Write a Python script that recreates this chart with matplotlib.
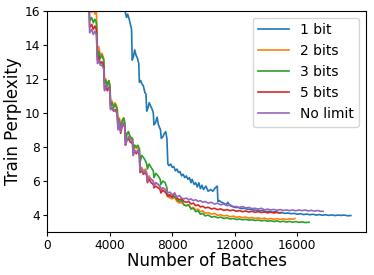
import matplotlib
matplotlib.use("Agg")
import matplotlib.pyplot as plt

# (batch, perplexity) points
bit1_x = [4950, 5000, 5080, 5150, 5250, 5350, 5400,
          5440, 5520, 5600, 5680, 5780, 5860,
          5900, 5980, 6060, 6150, 6250, 6320,
          6370, 6450, 6530, 6620, 6720, 6790,
          6830, 6920, 7030, 7120, 7250,
          7300, 7400, 7500, 7580, 7660,
          7720, 7800, 7900, 8000, 8100, 8200, 8300, 8400, 8500, 8600,
          8700, 8800, 8900, 9000, 9100, 9200, 9270, 9400, 9500, 9600, 9700, 9800, 9900,
          10000, 10150, 10300, 10450, 10600, 10750, 10880,
          10920, 11000, 11150, 11300, 11450, 11550, 11700, 11850, 12000, 12200, 12400,
          12600, 12800, 13000, 13200, 13400, 13600, 13800, 14000, 14200, 14400, 14600,
          14800, 15000, 15200, 15400, 15600, 15800, 16000, 16200, 16400, 16600, 16800,
          17000, 17200, 17400, 17600, 17800, 18000, 18200, 18400, 18600, 18800, 19000,
          19200, 19420]
bit1_y = [16.6, 15.9, 15.6, 15.8, 15.5, 15.1, 14.9,
          13.1, 13.3, 13.7, 13.4, 13.2, 12.9,
          11.8, 11.9, 11.7, 11.6, 11.2, 11.1,
          10.1, 10.3, 10.6, 10.4, 10.2, 10.0,
          9.3, 9.4, 9.75, 9.3, 9.0,
          8.5, 8.6, 8.8, 8.9, 8.5,
          7.0, 6.9, 7.0, 6.8, 6.85, 6.6, 6.7, 6.5, 6.55, 6.3,
          6.4, 6.2, 6.3, 6.1, 6.2, 5.9, 6.1, 5.8, 5.9, 5.65, 5.9, 5.55, 5.75,
          5.5, 5.7, 5.4, 5.5, 5.4, 5.6, 5.7,
          4.8, 4.85, 4.75, 4.7, 4.6, 4.75, 4.55, 4.5, 4.45, 4.45, 4.38,
          4.4, 4.35, 4.33, 4.3, 4.28, 4.25, 4.27, 4.2, 4.22, 4.17, 4.2,
          4.13, 4.15, 4.1, 4.12, 4.08, 4.1, 4.05, 4.08, 4.03, 4.06, 4.02,
          4.05, 4.0, 4.03, 3.99, 4.02, 3.98, 4.01, 3.97, 4.0, 3.98, 4.0,
          3.96, 3.97]

bit2_x = [2680, 2720, 2850, 2950, 3050, 3150,
          3220, 3300, 3400, 3500, 3620,
          3670, 3750, 3850, 3950, 4020,
          4060, 4150, 4250, 4350, 4480,
          4530, 4620, 4700, 4800, 4900, 4970,
          5010, 5100, 5200, 5300, 5460,
          5500, 5600, 5700, 5800, 5900,
          5940, 6050, 6150, 6280, 6370,
          6410, 6520, 6650, 6790,
          6830, 6950, 7100, 7230,
          7270, 7400, 7550, 7660,
          7700, 7850, 8000, 8150, 8300, 8450, 8600, 8750, 8900, 9050, 9200,
          9350, 9500, 9650, 9800, 9950, 10100, 10300, 10500, 10700, 10900, 11100,
          11300, 11500, 11700, 11900, 12100, 12300, 12500, 12700, 12900, 13100, 13300,
          13500, 13700, 13900, 14100, 14300, 14500, 14700, 14900, 15100, 15300, 15500,
          15700, 15850]
bit2_y = [16.8, 16.1, 15.9, 16.2, 15.8, 16.0,
          13.6, 13.9, 13.4, 13.5, 13.2,
          11.8, 12.0, 11.7, 11.9, 11.6,
          10.5, 10.7, 10.4, 10.6, 10.3,
          9.4, 9.7, 9.1, 9.6, 9.7, 9.4,
          8.4, 8.7, 8.9, 8.6, 8.5,
          7.8, 8.1, 7.9, 8.0, 7.8,
          6.7, 6.8, 6.6, 6.7, 6.5,
          6.1, 6.3, 6.1, 6.0,
          5.7, 5.9, 5.8, 5.6,
          5.4, 5.6, 5.5, 5.3,
          5.1, 5.0, 4.95, 5.05, 4.8, 4.7, 4.75, 4.6, 4.55, 4.6, 4.4,
          4.45, 4.3, 4.35, 4.2, 4.25, 4.1, 4.15, 4.05, 4.1, 3.98, 4.02,
          3.95, 3.98, 3.9, 3.94, 3.87, 3.9, 3.85, 3.88, 3.82, 3.86, 3.8,
          3.84, 3.78, 3.82, 3.76, 3.8, 3.75, 3.79, 3.74, 3.78, 3.74, 3.78,
          3.75, 3.8]

bit3_x = [2680, 2720, 2850, 2950, 3050, 3150,
          3220, 3300, 3400, 3500, 3620,
          3670, 3750, 3850, 3950, 4020,
          4060, 4150, 4250, 4350, 4480,
          4530, 4620, 4700, 4800, 4900, 4970,
          5010, 5100, 5200, 5300, 5460,
          5500, 5600, 5700, 5800, 5900,
          5940, 6050, 6150, 6280, 6370,
          6410, 6520, 6650, 6790,
          6830, 6950, 7100, 7230,
          7270, 7400, 7550, 7660,
          7700, 7850, 8000, 8150, 8300, 8450, 8600, 8750, 8900, 9050, 9200,
          9350, 9500, 9650, 9800, 9950, 10100, 10300, 10500, 10700, 10900, 11100,
          11300, 11500, 11700, 11900, 12100, 12300, 12500, 12700, 12900, 13100, 13300,
          13500, 13700, 13900, 14100, 14300, 14500, 14700, 14900, 15100, 15300, 15500,
          15700, 15900, 16100, 16300, 16500, 16750]
bit3_y = [16.5, 15.4, 15.6, 15.3, 15.5, 15.3,
          13.3, 13.6, 13.2, 13.4, 13.1,
          11.7, 11.9, 11.6, 11.9, 11.5,
          10.4, 10.6, 10.3, 10.5, 10.2,
          9.3, 9.6, 9.0, 9.5, 9.7, 9.4,
          8.4, 8.8, 8.9, 8.6, 8.5,
          7.8, 8.1, 8.0, 8.1, 7.9,
          7.1, 7.5, 7.4, 7.2, 7.0,
          6.7, 7.0, 6.8, 6.6,
          6.2, 6.45, 6.3, 6.1,
          5.8, 6.0, 5.9, 5.6,
          5.2, 5.1, 5.05, 5.1, 4.9, 4.8, 4.85, 4.6, 4.55, 4.6, 4.35,
          4.4, 4.2, 4.25, 4.05, 4.1, 3.95, 4.0, 3.88, 3.92, 3.84, 3.88,
          3.8, 3.84, 3.77, 3.8, 3.74, 3.77, 3.72, 3.75, 3.7, 3.73, 3.68,
          3.71, 3.66, 3.69, 3.64, 3.67, 3.62, 3.66, 3.6, 3.64, 3.59, 3.63,
          3.58, 3.62, 3.57, 3.6, 3.56, 3.58]

bit5_x = [2680, 2720, 2850, 2950, 3050, 3150,
          3220, 3300, 3400, 3500, 3620,
          3670, 3750, 3850, 3950, 4020,
          4060, 4150, 4250, 4350, 4480,
          4530, 4620, 4700, 4800, 4900, 4970,
          5010, 5100, 5200, 5300, 5460,
          5500, 5600, 5700, 5800, 5900,
          5940, 6050, 6150, 6280, 6370,
          6410, 6520, 6650, 6790,
          6830, 6950, 7100, 7230,
          7270, 7400, 7550, 7660,
          7700, 7850, 8000, 8150, 8300, 8450, 8600, 8750, 8900, 9050, 9200,
          9350, 9500, 9650, 9800, 9950, 10100, 10300, 10500, 10700, 10900, 11100,
          11300, 11500, 11700, 11900, 12100, 12300, 12500, 12700, 12900, 13100, 13300,
          13500, 13700, 13900, 14100, 14300, 14500, 14700, 14930]
bit5_y = [16.5, 15.0, 15.2, 14.9, 15.1, 14.9,
          13.1, 13.3, 12.9, 13.0, 12.7,
          11.4, 11.6, 11.3, 11.5, 11.2,
          10.2, 10.3, 10.1, 10.2, 10.0,
          9.1, 9.4, 8.8, 9.2, 9.4, 9.1,
          8.1, 8.4, 8.5, 8.3, 8.2,
          7.5, 7.8, 7.6, 7.8, 7.5,
          6.5, 6.6, 6.4, 6.5, 6.3,
          5.9, 6.1, 5.9, 5.8,
          5.6, 5.7, 5.6, 5.5,
          5.3, 5.45, 5.35, 5.2,
          5.1, 5.2, 5.05, 5.3, 5.0, 4.9, 4.95, 4.8, 4.75, 4.8, 4.65,
          4.7, 4.55, 4.6, 4.48, 4.52, 4.42, 4.46, 4.36, 4.4, 4.32, 4.36,
          4.28, 4.32, 4.26, 4.3, 4.22, 4.26, 4.2, 4.24, 4.18, 4.22, 4.16,
          4.2, 4.15, 4.18, 4.13, 4.17, 4.12, 4.16, 4.12]

nolim_x = [2680, 2720, 2850, 2950, 3050, 3150,
           3220, 3300, 3400, 3500, 3620,
           3670, 3750, 3850, 3950, 4020,
           4060, 4150, 4250, 4350, 4480,
           4530, 4620, 4700, 4800, 4900, 4970,
           5010, 5100, 5200, 5300, 5460,
           5500, 5600, 5700, 5800, 5900,
           5940, 6050, 6150, 6280, 6370,
           6410, 6520, 6650, 6790,
           6830, 6950, 7100, 7230,
           7270, 7400, 7550, 7660,
           7700, 7850, 8000, 8150, 8300, 8450, 8600, 8750, 8900, 9050, 9200,
           9350, 9500, 9650, 9800, 9950, 10100, 10300, 10500, 10700, 10900, 11100,
           11300, 11500, 11700, 11900, 12100, 12300, 12500, 12700, 12900, 13100, 13300,
           13500, 13700, 13900, 14100, 14300, 14500, 14700, 14900, 15100, 15300, 15500,
           15700, 15900, 16100, 16300, 16500, 16700, 16900, 17100, 17300, 17500, 17650]
nolim_y = [16.5, 14.7, 14.9, 14.6, 14.8, 14.6,
           12.9, 13.1, 12.8, 12.8, 12.6,
           11.3, 11.5, 11.6, 11.4, 11.3,
           10.2, 10.3, 10.2, 10.1, 10.0,
           9.0, 9.5, 8.9, 9.3, 9.4, 9.2,
           8.1, 8.4, 8.6, 8.5, 8.3,
           7.5, 7.8, 7.7, 7.8, 7.6,
           6.6, 6.7, 6.5, 6.6, 6.4,
           6.0, 6.2, 6.1, 6.0,
           5.7, 5.9, 5.8, 5.7,
           5.5, 5.6, 5.5, 5.4,
           5.3, 5.35, 5.2, 5.25, 5.05, 5.15, 5.0, 4.95, 5.0, 4.9, 4.95,
           4.85, 4.9, 4.8, 4.85, 4.75, 4.8, 4.7, 4.75, 4.65, 4.7, 4.6,
           4.65, 4.55, 4.6, 4.5, 4.5, 4.45, 4.5, 4.42, 4.45, 4.38, 4.4,
           4.35, 4.4, 4.3, 4.35, 4.3, 4.33, 4.28, 4.32, 4.27, 4.3, 4.26,
           4.3, 4.25, 4.3, 4.26, 4.3, 4.24, 4.28, 4.23, 4.27, 4.22, 4.22]

series = [("1 bit", bit1_x, bit1_y), ("2 bits", bit2_x, bit2_y),
          ("3 bits", bit3_x, bit3_y), ("5 bits", bit5_x, bit5_y),
          ("No limit", nolim_x, nolim_y)]

fig, ax = plt.subplots(figsize=(3.74, 2.75), dpi=100)
for label, xs, ys in series:
    ax.plot(xs, ys, lw=1.2, label=label)

ax.set_xlim(0, 20400)
ax.set_ylim(3, 16)
ax.set_xticks([0, 4000, 8000, 12000, 16000])
ax.set_yticks([4, 6, 8, 10, 12, 14, 16])
ax.tick_params(labelsize=8.7, length=3, pad=2)
ax.set_xlabel("Number of Batches", fontsize=12, labelpad=0)
ax.set_ylabel("Train Perplexity", fontsize=12, labelpad=2)
ax.legend(loc="upper right", fontsize=10, handlelength=2.2)
fig.subplots_adjust(left=0.126, right=0.979, top=0.961, bottom=0.156)
fig.savefig("out.png", dpi=100)
